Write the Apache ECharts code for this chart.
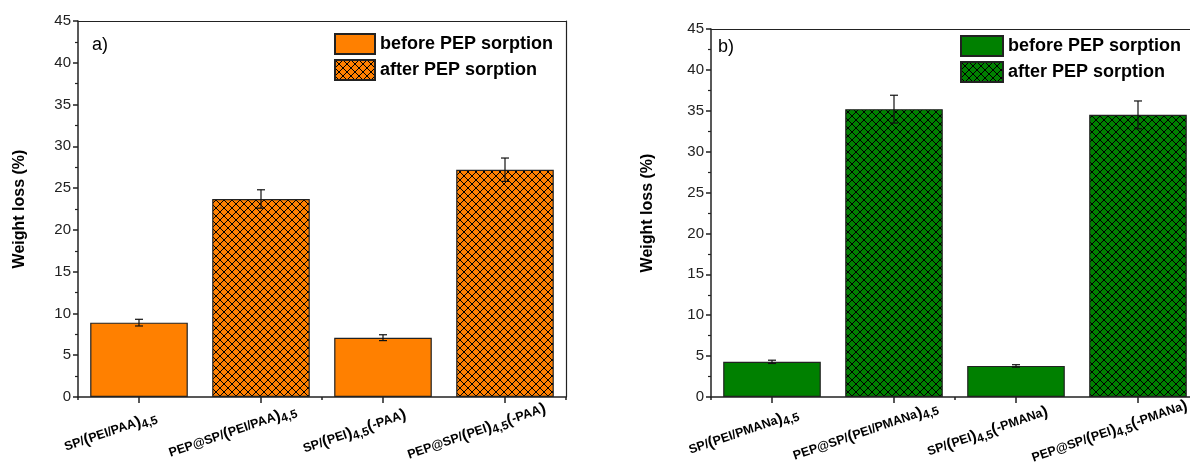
<!DOCTYPE html>
<html>
<head>
<meta charset="utf-8">
<script src="https://cdn.jsdelivr.net/npm/echarts@6/dist/echarts.min.js"></script>
<style>
html,body{margin:0;padding:0;background:#fff;}
#chart{width:1190px;height:471px;}
</style>
</head>
<body>
<div id="chart"></div>
<script>
// ---- data ----
const leftCategories = ['SP/(PEI/PAA)4,5', 'PEP@SP/(PEI/PAA)4,5', 'SP/(PEI)4,5(-PAA)', 'PEP@SP/(PEI)4,5(-PAA)'];
const leftBefore = [8.9, '-', 7.1, '-'];
const leftAfter = ['-', 23.7, '-', 27.2];
const leftValues = [8.9, 23.7, 7.1, 27.2];
const leftErrors = [0.4, 1.1, 0.35, 1.4];

const rightCategories = ['SP/(PEI/PMANa)4,5', 'PEP@SP/(PEI/PMANa)4,5', 'SP/(PEI)4,5(-PMANa)', 'PEP@SP/(PEI)4,5(-PMANa)'];
const rightBefore = [4.3, '-', 3.8, '-'];
const rightAfter = ['-', 35.2, '-', 34.5];
const rightValues = [4.3, 35.2, 3.8, 34.5];
const rightErrors = [0.2, 1.7, 0.15, 1.7];

const yTicks = [0, 5, 10, 15, 20, 25, 30, 35, 40, 45];
const legendNames = ['before PEP sorption', 'after PEP sorption'];
const legendNamesB = ['before PEP sorption ', 'after PEP sorption '];

const ORANGE = '#FF8000';
const GREEN = '#008000';

function hatch(color) {
  const c = document.createElement('canvas');
  const s = 8;
  c.width = s; c.height = s;
  const g = c.getContext('2d');
  g.fillStyle = color;
  g.fillRect(0, 0, s, s);
  g.strokeStyle = '#000';
  g.lineWidth = 1;
  g.beginPath();
  g.moveTo(-1, -1); g.lineTo(s + 1, s + 1);
  g.moveTo(s + 1, -1); g.lineTo(-1, s + 1);
  g.stroke();
  return { image: c, repeat: 'repeat' };
}

function fmtLabel(v) {
  return v.replace(/\(/g, '\u0001').replace(/\)/g, '\u0002')
    .replace(/4,5/g, '{s|4,5}')
    .replace(/\u0001/g, '{p|(}').replace(/\u0002/g, '{p|)}') + '{sp| }';
}

const rich = {
  p: { fontSize: 16, fontWeight: 'bold', color: '#000', fontFamily: 'Liberation Sans' },
  s: { fontSize: 12, fontWeight: 'bold', color: '#000', fontFamily: 'Liberation Sans', padding: [8, 0, 0, 0] },
  sp: { width: 60 }
};

function xAxesFor(gridIndex, cats) {
  return [
    {
      type: 'category', gridIndex, data: cats, position: 'bottom',
      axisLine: { show: true, lineStyle: { color: '#222', width: 1.5 } },
      axisTick: { show: true, alignWithLabel: true, length: 6, lineStyle: { color: '#222', width: 1.5 } },
      axisLabel: {
        show: true, interval: 0, rotate: 19, align: 'center', verticalAlign: 'middle', margin: 25,
        fontSize: 12.5, fontWeight: 'bold', color: '#000', fontFamily: 'Liberation Sans',
        formatter: fmtLabel, rich, hideOverlap: false
      },
      splitLine: { show: false }
    },
    {
      type: 'category', gridIndex, data: cats, position: 'bottom',
      axisLine: { show: false },
      axisTick: { show: true, alignWithLabel: false, length: 3, lineStyle: { color: '#222', width: 1.5 } },
      axisLabel: { show: false }, splitLine: { show: false }
    },
    {
      type: 'category', gridIndex, data: cats, position: 'top',
      axisLine: { show: true, lineStyle: { color: '#222', width: 1.2 } },
      axisTick: { show: false }, axisLabel: { show: false }, splitLine: { show: false }
    }
  ];
}

function yAxesFor(gridIndex, gap) {
  return [
    {
      type: 'value', gridIndex, min: yTicks[0], max: yTicks[yTicks.length - 1], interval: yTicks[1] - yTicks[0],
      position: 'left',
      name: 'Weight loss (%)', nameLocation: 'middle', nameGap: gap,
      nameTextStyle: { fontSize: 16, fontWeight: 'bold', color: '#000', fontFamily: 'Liberation Sans' },
      axisLine: { show: true, lineStyle: { color: '#222', width: 1.5 } },
      axisTick: { show: true, length: 5, lineStyle: { color: '#222', width: 1.5 } },
      minorTick: { show: true, splitNumber: 2, length: 3, lineStyle: { color: '#222', width: 1.2 } },
      axisLabel: { fontSize: 15, color: '#222', fontFamily: 'Liberation Sans', margin: 7 },
      splitLine: { show: false }
    },
    {
      type: 'value', gridIndex, min: yTicks[0], max: yTicks[yTicks.length - 1], position: 'right',
      axisLine: { show: true, lineStyle: { color: '#222', width: 1.2 } },
      axisTick: { show: false }, axisLabel: { show: false }, splitLine: { show: false }
    }
  ];
}

function errSeries(xi, yi, values, errors) {
  return {
    type: 'custom', xAxisIndex: xi, yAxisIndex: yi, silent: true, z: 5,
    data: values.map((v, i) => [i, v, errors[i]]),
    encode: { x: 0, y: 1 },
    renderItem: function (params, api) {
      const i = api.value(0), v = api.value(1), e = api.value(2);
      const hi = api.coord([i, v + e]);
      const lo = api.coord([i, v - e]);
      const w = 4;
      const st = { stroke: '#111', lineWidth: 1.2 };
      return {
        type: 'group', children: [
          { type: 'line', shape: { x1: hi[0], y1: hi[1], x2: lo[0], y2: lo[1] }, style: st },
          { type: 'line', shape: { x1: hi[0] - w, y1: hi[1], x2: hi[0] + w, y2: hi[1] }, style: st },
          { type: 'line', shape: { x1: lo[0] - w, y1: lo[1], x2: lo[0] + w, y2: lo[1] }, style: st }
        ]
      };
    }
  };
}

function barSeries(name, xi, yi, data, color) {
  return {
    name, type: 'bar', xAxisIndex: xi, yAxisIndex: yi, data,
    barWidth: '80%', barGap: '-100%',
    itemStyle: { color, borderColor: '#222', borderWidth: 1.2 }
  };
}

const legendText = { fontSize: 18, fontWeight: 'bold', color: '#000', fontFamily: 'Liberation Sans' };
const panelText = { fontSize: 18, fontWeight: 'normal', color: '#000', fontFamily: 'Liberation Sans' };

const chart = echarts.init(document.getElementById('chart'), null, { renderer: 'canvas' });
const option = {
  animation: false,
  backgroundColor: '#fff',
  title: [
    { text: 'a)', left: 92, top: 36, padding: 0, textStyle: panelText },
    { text: 'b)', left: 718, top: 38, padding: 0, textStyle: panelText }
  ],
  legend: [
    {
      data: legendNames, left: 334, top: 33, orient: 'vertical', itemWidth: 40, itemHeight: 20, itemGap: 4,
      padding: 0, icon: 'rect', selectedMode: false, textStyle: legendText
    },
    {
      data: legendNamesB, left: 960, top: 35, orient: 'vertical', itemWidth: 42, itemHeight: 20, itemGap: 4,
      padding: 0, icon: 'rect', selectedMode: false, textStyle: legendText
    }
  ],
  grid: [
    { left: 78, top: 21, width: 488, height: 376, outerBoundsMode: 'none', containLabel: false },
    { left: 711, top: 29, right: -9, height: 368, outerBoundsMode: 'none', containLabel: false }
  ],
  xAxis: [...xAxesFor(0, leftCategories), ...xAxesFor(1, rightCategories)],
  yAxis: [...yAxesFor(0, 50), ...yAxesFor(1, 55)],
  series: [
    barSeries(legendNames[0], 0, 0, leftBefore, ORANGE),
    barSeries(legendNames[1], 0, 0, leftAfter, hatch(ORANGE)),
    errSeries(0, 0, leftValues, leftErrors),
    barSeries(legendNamesB[0], 3, 2, rightBefore, GREEN),
    barSeries(legendNamesB[1], 3, 2, rightAfter, hatch(GREEN)),
    errSeries(3, 2, rightValues, rightErrors)
  ]
};
chart.setOption(option);
</script>
</body>
</html>
